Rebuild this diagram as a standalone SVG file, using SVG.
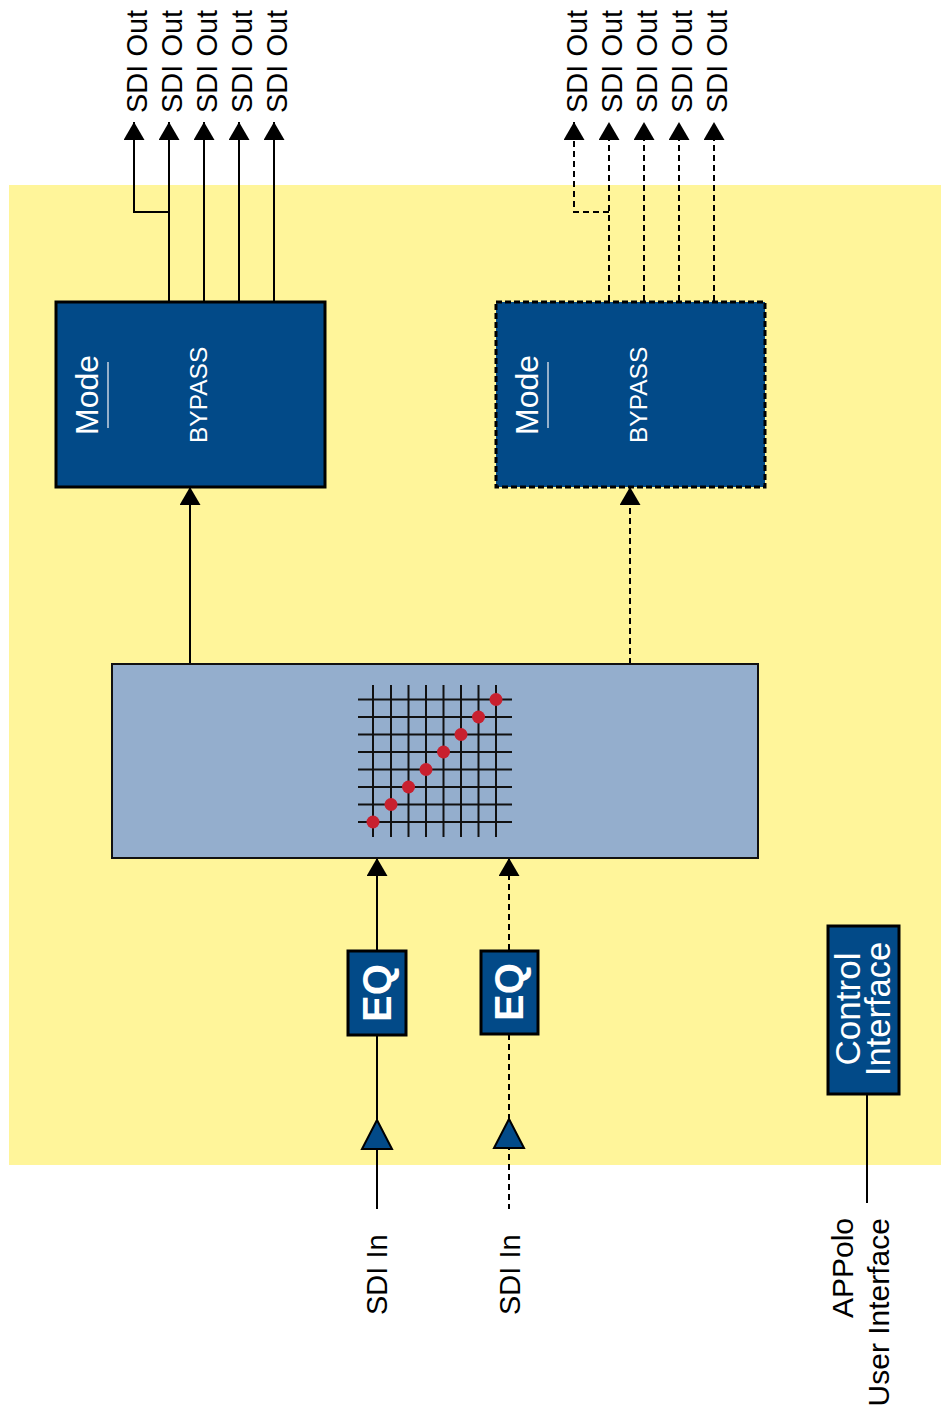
<svg xmlns="http://www.w3.org/2000/svg" width="941" height="1412" viewBox="0 0 941 1412">
<style>
.lbl{font-family:"Liberation Sans",Arial,sans-serif;fill:#000}
.wt{font-family:"Liberation Sans",Arial,sans-serif;fill:#fff}
.ln{stroke:#000;stroke-width:2;fill:none}
.dash{stroke:#000;stroke-width:2;fill:none;stroke-dasharray:6 4}
.blk{fill:#024a88;stroke:#000;stroke-width:3}
.grid line{stroke:#111;stroke-width:2}
.dot{fill:#c8202f}
</style>
<defs>
<marker id="ah" markerUnits="userSpaceOnUse" markerWidth="18" markerHeight="21" refX="18" refY="10.5" orient="auto" viewBox="0 0 18 21">
<path d="M0,0 L18,10.5 L0,21 z" fill="#000"/>
</marker>
</defs>
<rect x="9" y="185" width="932" height="980" fill="#fff59a"/>
<g id="connectors">
<path class="ln" d="M169,301 V122" marker-end="url(#ah)"/>
<path class="ln" d="M169,212 H134 V122" marker-end="url(#ah)"/>
<path class="ln" d="M204,301 V122" marker-end="url(#ah)"/>
<path class="ln" d="M239,301 V122" marker-end="url(#ah)"/>
<path class="ln" d="M274,301 V122" marker-end="url(#ah)"/>
<path class="dash" d="M609,301 V122" marker-end="url(#ah)"/>
<path class="dash" d="M609,212 H574 V122" marker-end="url(#ah)"/>
<path class="dash" d="M644,301 V122" marker-end="url(#ah)"/>
<path class="dash" d="M679,301 V122" marker-end="url(#ah)"/>
<path class="dash" d="M714,301 V122" marker-end="url(#ah)"/>
<path class="ln" d="M190,664 V487" marker-end="url(#ah)"/>
<path class="dash" d="M630,664 V487" marker-end="url(#ah)"/>
<path class="ln" d="M377,950 V858" marker-end="url(#ah)"/>
<path class="dash" d="M509,950 V858" marker-end="url(#ah)"/>
<path class="ln" d="M377,1035 V1209"/>
<path class="dash" d="M509,1034 V1209"/>
<path class="ln" d="M867,1094 V1203" stroke="#222"/>
</g>
<g id="out-labels-left">
<text class="lbl" font-size="29" transform="translate(147,113) rotate(-90)">SDI Out</text>
<text class="lbl" font-size="29" transform="translate(182,113) rotate(-90)">SDI Out</text>
<text class="lbl" font-size="29" transform="translate(217,113) rotate(-90)">SDI Out</text>
<text class="lbl" font-size="29" transform="translate(252,113) rotate(-90)">SDI Out</text>
<text class="lbl" font-size="29" transform="translate(287,113) rotate(-90)">SDI Out</text>
</g>
<g id="out-labels-right">
<text class="lbl" font-size="29" transform="translate(587,113) rotate(-90)">SDI Out</text>
<text class="lbl" font-size="29" transform="translate(622,113) rotate(-90)">SDI Out</text>
<text class="lbl" font-size="29" transform="translate(657,113) rotate(-90)">SDI Out</text>
<text class="lbl" font-size="29" transform="translate(692,113) rotate(-90)">SDI Out</text>
<text class="lbl" font-size="29" transform="translate(727,113) rotate(-90)">SDI Out</text>
</g>
<g id="mode-left">
<rect class="blk" x="56" y="302" width="269" height="185"/>
<text class="wt" font-size="32" transform="translate(98,435) rotate(-90)">Mode</text>
<line x1="108" y1="362" x2="108" y2="428" stroke="#c9d3e0" stroke-width="1.5"/>
<text class="wt" font-size="24.5" transform="translate(207,443) rotate(-90)">BYPASS</text>
</g>
<g id="mode-right">
<rect class="blk" x="496" y="302" width="269" height="185" stroke-dasharray="6 3"/>
<text class="wt" font-size="32" transform="translate(538,435) rotate(-90)">Mode</text>
<line x1="548" y1="362" x2="548" y2="428" stroke="#c9d3e0" stroke-width="1.5"/>
<text class="wt" font-size="24.5" transform="translate(647,443) rotate(-90)">BYPASS</text>
</g>
<g id="crosspoint">
<rect x="112" y="664" width="646" height="194" fill="#94aecd" stroke="#111" stroke-width="2"/>
<g class="grid">
<line x1="373" y1="685" x2="373" y2="837"/>
<line x1="391" y1="685" x2="391" y2="837"/>
<line x1="408.5" y1="685" x2="408.5" y2="837"/>
<line x1="426" y1="685" x2="426" y2="837"/>
<line x1="443.5" y1="685" x2="443.5" y2="837"/>
<line x1="461" y1="685" x2="461" y2="837"/>
<line x1="478.5" y1="685" x2="478.5" y2="837"/>
<line x1="496" y1="685" x2="496" y2="837"/>
<line x1="358" y1="699.5" x2="512" y2="699.5"/>
<line x1="358" y1="717" x2="512" y2="717"/>
<line x1="358" y1="734.5" x2="512" y2="734.5"/>
<line x1="358" y1="752" x2="512" y2="752"/>
<line x1="358" y1="769.5" x2="512" y2="769.5"/>
<line x1="358" y1="787" x2="512" y2="787"/>
<line x1="358" y1="804.5" x2="512" y2="804.5"/>
<line x1="358" y1="822" x2="512" y2="822"/>
</g>
<circle class="dot" cx="373" cy="822" r="6.5"/>
<circle class="dot" cx="391" cy="804.5" r="6.5"/>
<circle class="dot" cx="408.5" cy="787" r="6.5"/>
<circle class="dot" cx="426" cy="769.5" r="6.5"/>
<circle class="dot" cx="443.5" cy="752" r="6.5"/>
<circle class="dot" cx="461" cy="734.5" r="6.5"/>
<circle class="dot" cx="478.5" cy="717" r="6.5"/>
<circle class="dot" cx="496" cy="699.5" r="6.5"/>
</g>
<g id="eq-left">
<rect class="blk" x="348" y="951" width="58" height="84"/>
<text class="wt" font-size="40" font-weight="bold" text-anchor="middle" transform="translate(391,993) rotate(-90)">EQ</text>
</g>
<g id="eq-right">
<rect class="blk" x="481" y="951" width="57" height="83"/>
<text class="wt" font-size="40" font-weight="bold" text-anchor="middle" transform="translate(523,992) rotate(-90)">EQ</text>
</g>
<g id="buffer-left">
<polygon points="377,1120 392,1149 362,1149" fill="#024a88" stroke="#000" stroke-width="2"/>
</g>
<g id="buffer-right">
<polygon points="509,1119 524,1148 494,1148" fill="#024a88" stroke="#000" stroke-width="2"/>
</g>
<g id="in-left">
<text class="lbl" font-size="29" transform="translate(387,1315) rotate(-90)">SDI In</text>
</g>
<g id="in-right">
<text class="lbl" font-size="29" transform="translate(520,1315) rotate(-90)">SDI In</text>
</g>
<g id="control-interface">
<rect class="blk" x="828" y="926" width="71" height="168"/>
<text class="wt" font-size="35" text-anchor="middle" transform="translate(860,1009) rotate(-90)">Control</text>
<text class="wt" font-size="34.5" text-anchor="middle" transform="translate(890,1009) rotate(-90)">Interface</text>
</g>
<g id="appolo">
<text class="lbl" font-size="30" text-anchor="end" transform="translate(853,1218) rotate(-90)">APPolo</text>
<text class="lbl" font-size="30" text-anchor="end" transform="translate(889,1218) rotate(-90)">User Interface</text>
</g>
</svg>
